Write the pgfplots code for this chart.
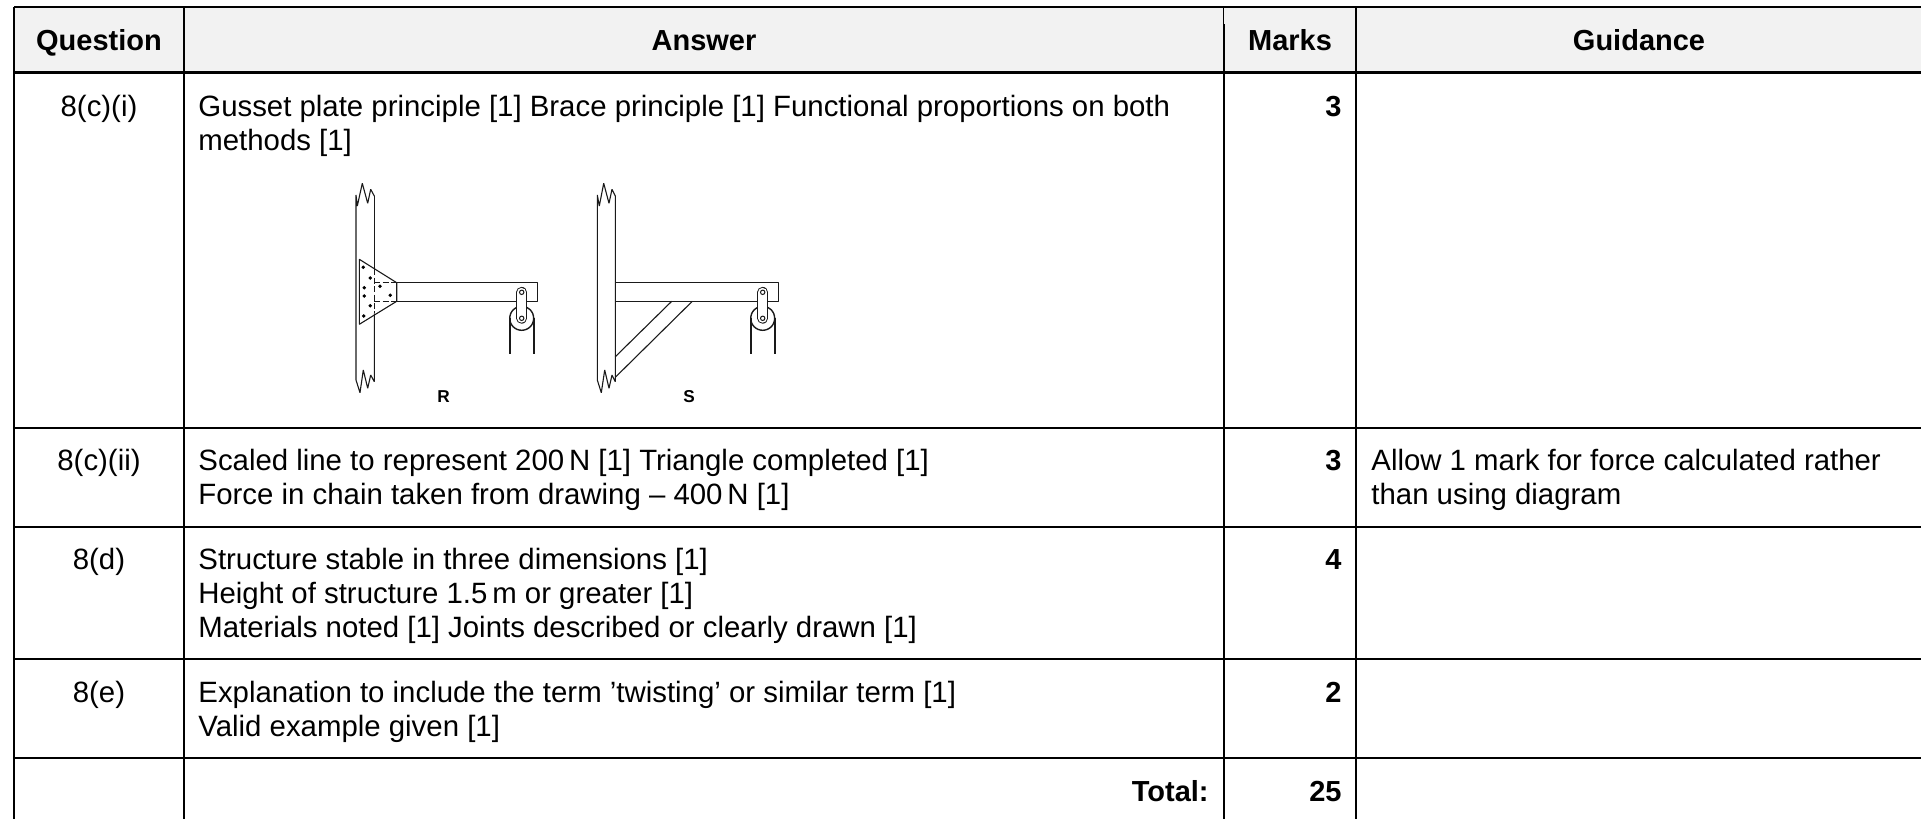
\documentclass[border=0pt]{standalone}
\usepackage{fontspec}
\setmainfont{Liberation Sans}
\usepackage{pgfplots}
\pgfplotsset{compat=1.18}
\definecolor{headGrey}{HTML}{F2F2F2}
\definecolor{sketch}{HTML}{1A1A1A}
\newcommand{\body}{\fontsize{14.69}{17}\selectfont}
\newcommand{\head}{\fontsize{14.5}{17}\selectfont\bfseries}
\pgfplotsset{
  rule/.style={black, line width=0.85pt},
  thick rule/.style={black, line width=1.25pt},
  pen/.style={sketch, line width=0.55pt, line join=bevel},
  dashpen/.style={sketch, line width=0.6pt, dash pattern=on 3pt off 1.2pt},
  rope/.style={sketch, line width=0.95pt},
}
\newcommand{\pulley}[2]{%
  \addplot[rope] coordinates {(#1-11.7,#2) (#1-11.7,354.3)};
  \addplot[rope] coordinates {(#1+12.3,#2) (#1+12.3,354.3)};
  \addplot[sketch, line width=0.7pt, smooth] coordinates {
    (#1+5,#2-10.9) (#1+8.5,#2-8.5) (#1+11,#2-4.8) (#1+12,#2) (#1+11,#2+4.8) (#1+8.5,#2+8.5)
    (#1+4.6,#2+11.1) (#1,#2+12) (#1-4.6,#2+11.1) (#1-8.5,#2+8.5) (#1-11,#2+4.8) (#1-12,#2)
    (#1-11,#2-4.8) (#1-8.5,#2-8.5) (#1-5,#2-10.9)};
  \addplot[sketch, line width=5.4pt, line cap=round] coordinates {(#1,292.3) (#1,#2)};
  \addplot[white, line width=4.4pt, line cap=round] coordinates {(#1,292.3) (#1,#2)};
  \addplot[only marks, mark=*, mark size=1.1pt, mark options={fill=white, draw=sketch, line width=0.5pt}] coordinates {(#1,292.3) (#1,#2)};
}
\begin{document}
\begin{tikzpicture}
\path[use as bounding box] (0,0) rectangle (960.5pt,409.5pt);
\begin{axis}[
  at={(0,0)}, anchor=south west,
  scale only axis, width=960.5pt, height=409.5pt,
  xmin=0, xmax=1921, ymin=0, ymax=819, y dir=reverse,
  axis lines=none, clip=false,
]
  % header band
  \addplot[fill=headGrey, draw=none] coordinates {(14,7) (1921,7) (1921,72) (14,72)} --cycle;

  % table rules
  \addplot[rule] coordinates {(14,7) (1921,7)};
  \addplot[thick rule] coordinates {(14,72.5) (1921,72.5)};
  \addplot[rule] coordinates {(14,428) (1921,428)};
  \addplot[rule] coordinates {(14,527) (1921,527)};
  \addplot[rule] coordinates {(14,659) (1921,659)};
  \addplot[rule] coordinates {(14,758) (1921,758)};
  \addplot[rule] coordinates {(14,7) (14,819)};
  \addplot[rule] coordinates {(184,7) (184,819)};
  \addplot[black, line width=0.5pt] coordinates {(1223.3,7) (1223.3,24)};
  \addplot[rule] coordinates {(1224,24) (1224,819)};
  \addplot[rule] coordinates {(1356,7) (1356,819)};

  % sketch R
  \addplot[pen] coordinates {(374.3,196) (370.7,189.3) (367.7,203.3) (362.3,183.3) (357.3,206) (356,195) (356,380) (360,392.7) (363.3,370) (367.7,388.3) (370.7,375) (374.3,381.7) (374.3,313.3)};
  \addplot[pen] coordinates {(374.3,196) (374.3,269.3)};
  \addplot[dashpen] coordinates {(374.3,269.3) (374.3,313.3)};
  \addplot[pen] coordinates {(396.7,282.7) (359.3,259.3) (359.3,324.3) (396.7,301.3)} --cycle;
  \addplot[pen, line width=0.7pt] coordinates {(396.7,282.7) (537.7,282.7) (537.7,301.3) (396.7,301.3)};
  \addplot[dashpen] coordinates {(374.3,282.7) (396.7,282.7)};
  \addplot[dashpen] coordinates {(374.3,301.3) (396.7,301.3)};
  \addplot[only marks, mark=*, mark size=0.65pt, mark options={fill=black, draw=black}] coordinates {
    (363.3,267.3) (370.3,278) (380,286.3) (364.3,287.7)
    (364.3,296) (390.3,295.3) (370.3,305.7) (363.7,316)};
  \pulley{521.7}{318.3}

  % sketch S
  \addplot[pen] coordinates {(615.3,196) (612,189.3) (609,203.3) (603.7,183.3) (599.3,206) (597.3,195) (597.3,380) (601.3,392.7) (604.7,370) (609,388.3) (612,375) (615.3,381.7)} --cycle;
  \addplot[pen, line width=0.7pt] coordinates {(615.3,282.7) (778.7,282.7) (778.7,301.3) (615.3,301.3)};
  \addplot[pen] coordinates {(671.7,301.3) (615.3,356.7)};
  \addplot[pen] coordinates {(692.3,301.3) (615.3,377.3)};
  \pulley{762.7}{318.3}

  \node[anchor=base, font=\fontsize{8.6}{10}\selectfont\bfseries] at (axis cs:443.5,402) {R};
  \node[anchor=base, font=\fontsize{8.6}{10}\selectfont\bfseries] at (axis cs:689,402) {S};

  % header text
  \node[anchor=base, font=\head] at (axis cs:99,50.5) {Question};
  \node[anchor=base, font=\head] at (axis cs:704,50.5) {Answer};
  \node[anchor=base, font=\head] at (axis cs:1290,50.5) {Marks};
  \node[anchor=base, font=\head] at (axis cs:1639,50.5) {Guidance};

  % question column
  \node[anchor=base, font=\body] at (axis cs:99,116) {8(c)(i)};
  \node[anchor=base, font=\body] at (axis cs:99,470) {8(c)(ii)};
  \node[anchor=base, font=\body] at (axis cs:99,569) {8(d)};
  \node[anchor=base, font=\body] at (axis cs:99,702.5) {8(e)};

  % answer column
  \node[anchor=base west, inner xsep=0pt, font=\body] at (axis cs:198,116) {Gusset plate principle [1] Brace principle [1] Functional proportions on both};
  \node[anchor=base west, inner xsep=0pt, font=\body] at (axis cs:198,150) {methods [1]};
  \node[anchor=base west, inner xsep=0pt, font=\body] at (axis cs:198,470) {Scaled line to represent 200\,N [1] Triangle completed [1]};
  \node[anchor=base west, inner xsep=0pt, font=\body] at (axis cs:198,504) {Force in chain taken from drawing – 400\,N [1]};
  \node[anchor=base west, inner xsep=0pt, font=\body] at (axis cs:198,569) {Structure stable in three dimensions [1]};
  \node[anchor=base west, inner xsep=0pt, font=\body] at (axis cs:198,603) {Height of structure 1.5\,m or greater [1]};
  \node[anchor=base west, inner xsep=0pt, font=\body] at (axis cs:198,637) {Materials noted [1] Joints described or clearly drawn [1]};
  \node[anchor=base west, inner xsep=0pt, font=\body] at (axis cs:198,702.5) {Explanation to include the term ’twisting’ or similar term [1]};
  \node[anchor=base west, inner xsep=0pt, font=\body] at (axis cs:198,736) {Valid example given [1]};
  \node[anchor=base east, inner xsep=0pt, font=\head] at (axis cs:1209,801) {Total:};

  % marks column
  \node[anchor=base east, inner xsep=0pt, font=\head] at (axis cs:1342,116) {3};
  \node[anchor=base east, inner xsep=0pt, font=\head] at (axis cs:1342,470) {3};
  \node[anchor=base east, inner xsep=0pt, font=\head] at (axis cs:1342,569) {4};
  \node[anchor=base east, inner xsep=0pt, font=\head] at (axis cs:1342,702.5) {2};
  \node[anchor=base east, inner xsep=0pt, font=\head] at (axis cs:1342,801) {25};

  % guidance column
  \node[anchor=base west, inner xsep=0pt, font=\body] at (axis cs:1371,470) {Allow 1 mark for force calculated rather};
  \node[anchor=base west, inner xsep=0pt, font=\body] at (axis cs:1371,504) {than using diagram};
\end{axis}
\end{tikzpicture}
\end{document}
